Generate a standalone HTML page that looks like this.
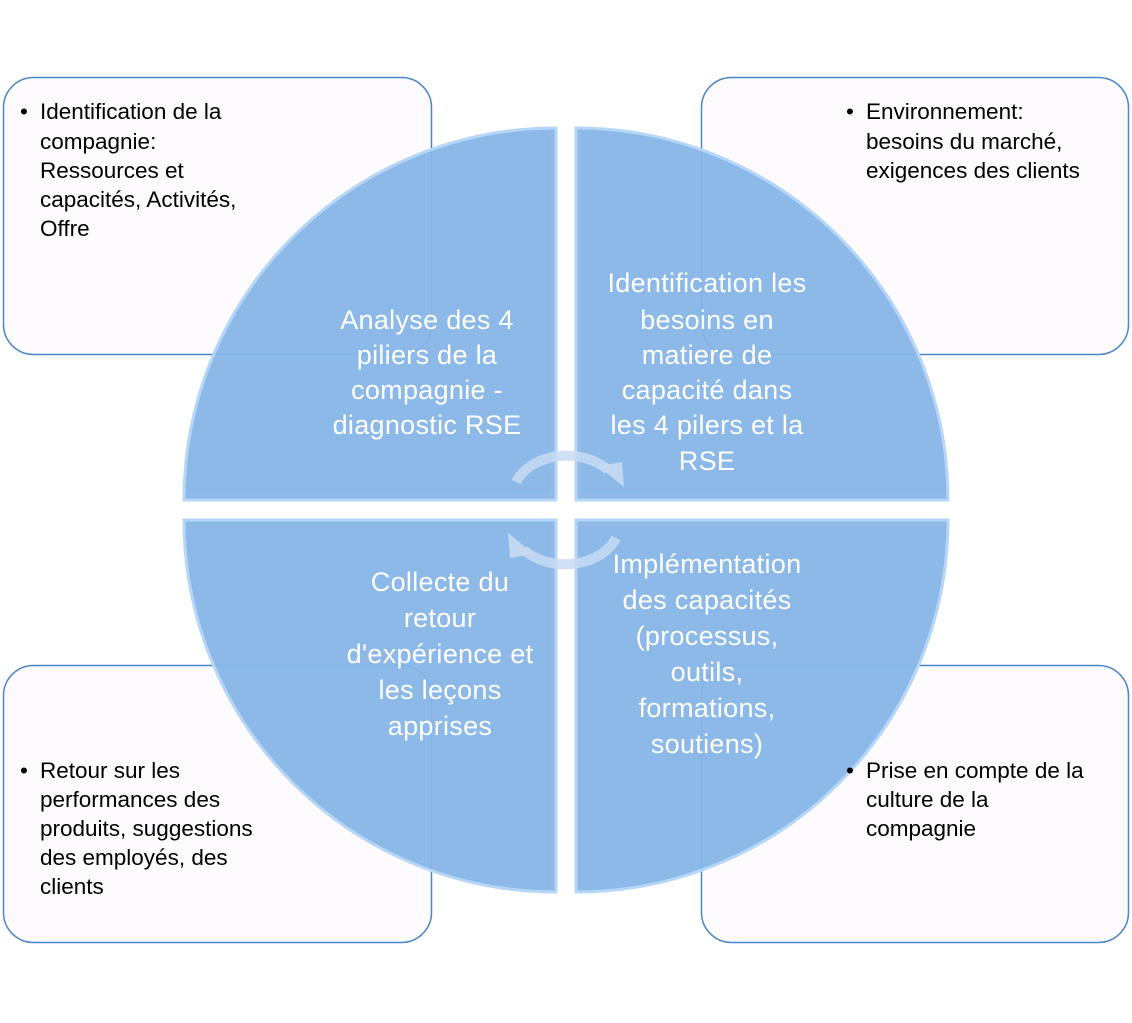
<!DOCTYPE html>
<html><head><meta charset="utf-8"><style>
html,body{margin:0;padding:0;background:#fff;width:1132px;height:1023px;overflow:hidden}
svg{display:block}
.b{font-family:"Liberation Sans",sans-serif;font-size:22.5px;fill:#000}
.q{font-family:"Liberation Sans",sans-serif;font-size:27px;fill:#fff;text-anchor:middle;letter-spacing:0.3px}
</style></head><body>
<svg width="1132" height="1023" viewBox="0 0 1132 1023" xmlns="http://www.w3.org/2000/svg">
<g fill="#fdfbfd" stroke="#4a86c8" stroke-width="1.5">
<rect x="3.5" y="77.5" width="428" height="277" rx="30"/>
<rect x="701.5" y="77.5" width="427" height="277" rx="30"/>
<rect x="3.5" y="665.5" width="428" height="277" rx="30"/>
<rect x="701.5" y="665.5" width="427" height="277" rx="30"/>
</g>
<g fill="#86b5e7" fill-opacity="0.94" stroke="#b5d6f7" stroke-width="3">
<path d="M556,500 L184,500 A372,372 0 0 1 556,128 Z"/>
<path d="M576,500 L576,128 A372,372 0 0 1 948,500 Z"/>
<path d="M556,520 L556,892 A372,372 0 0 1 184,520 Z"/>
<path d="M576,520 L948,520 A372,372 0 0 1 576,892 Z"/>
</g>
<g fill="none" stroke="#9bbbe0" stroke-width="1.5" opacity="0.8">
<path d="M552,132 L552,496 L188,496"/>
<path d="M580,132 L580,496 L944,496"/>
<path d="M552,524 L552,888"/>
<path d="M580,524 L944,524"/>
</g>
<g fill="none" stroke="#c8daf3" stroke-opacity="0.85" stroke-width="10">
<path d="M516,482 A54,40 0 0 1 608,470"/>
<path d="M616,538 A54,40 0 0 1 524,550"/>
</g>
<g fill="#c8daf3" fill-opacity="0.9">
<polygon points="598,466 624,487 622,462"/>
<polygon points="534,554 508,533 510,558"/>
</g>
<text class="q"><tspan x="427" y="329">Analyse des 4</tspan><tspan x="427" y="364">piliers de la</tspan><tspan x="427" y="399">compagnie -</tspan><tspan x="427" y="434">diagnostic RSE</tspan></text>
<text class="q"><tspan x="707" y="292">Identification les</tspan><tspan x="707" y="329">besoins en</tspan><tspan x="707" y="364">matiere de</tspan><tspan x="707" y="399">capacité dans</tspan><tspan x="707" y="434">les 4 pilers et la</tspan><tspan x="707" y="470">RSE</tspan></text>
<text class="q"><tspan x="440" y="591">Collecte du</tspan><tspan x="440" y="627">retour</tspan><tspan x="440" y="663">d'expérience et</tspan><tspan x="440" y="699">les leçons</tspan><tspan x="440" y="735">apprises</tspan></text>
<text class="q"><tspan x="707" y="573">Implémentation</tspan><tspan x="707" y="609">des capacités</tspan><tspan x="707" y="645">(processus,</tspan><tspan x="707" y="681">outils,</tspan><tspan x="707" y="717">formations,</tspan><tspan x="707" y="753">soutiens)</tspan></text>
<text class="b"><tspan x="20" y="119">•</tspan><tspan x="40" y="119">Identification de la</tspan><tspan x="40" y="149">compagnie:</tspan><tspan x="40" y="178">Ressources et</tspan><tspan x="40" y="207">capacités, Activités,</tspan><tspan x="40" y="236">Offre</tspan></text>
<text class="b"><tspan x="846" y="119">•</tspan><tspan x="866" y="119">Environnement:</tspan><tspan x="866" y="149">besoins du marché,</tspan><tspan x="866" y="178">exigences des clients</tspan></text>
<text class="b"><tspan x="20" y="778">•</tspan><tspan x="40" y="778">Retour sur les</tspan><tspan x="40" y="807">performances des</tspan><tspan x="40" y="836">produits, suggestions</tspan><tspan x="40" y="865">des employés, des</tspan><tspan x="40" y="894">clients</tspan></text>
<text class="b"><tspan x="846" y="778">•</tspan><tspan x="866" y="778">Prise en compte de la</tspan><tspan x="866" y="807">culture de la</tspan><tspan x="866" y="836">compagnie</tspan></text>
</svg>
</body></html>
